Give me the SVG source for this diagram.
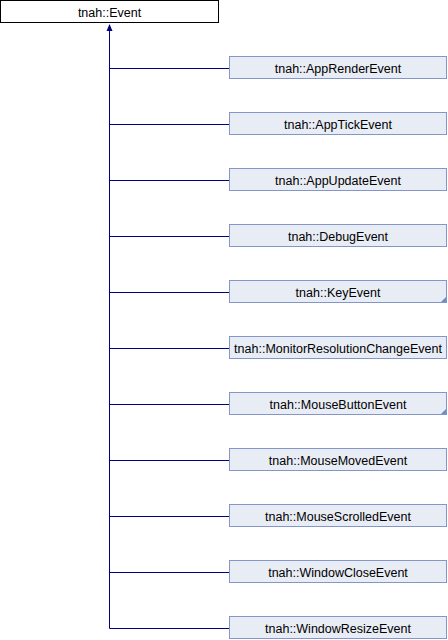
<svg xmlns="http://www.w3.org/2000/svg" width="448" height="640" viewBox="0 0 448 640">
<style>
.n rect{fill:#E8ECF5;stroke:#8496C8;stroke-width:1}
.t{font-family:"Liberation Sans",Arial,sans-serif;font-size:12.5px;fill:#000;text-anchor:middle}
.c{stroke:#000080;stroke-width:1;fill:none}
.tri{fill:#6C8AC8}
</style>
<defs>
<linearGradient id="g" x1="0" y1="0" x2="0" y2="1">
<stop offset="0" stop-color="#EEF1F8"/><stop offset="1" stop-color="#E2E7F2"/>
</linearGradient>
</defs>
<rect width="448" height="640" fill="#fff"/>
<g id="connectors">
<path class="c" d="M109.5 30 V628.5"/>
<path class="c" d="M109.5 68.5 H229 M109.5 124.5 H229 M109.5 180.5 H229 M109.5 236.5 H229 M109.5 292.5 H229 M109.5 348.5 H229 M109.5 404.5 H229 M109.5 460.5 H229 M109.5 516.5 H229 M109.5 572.5 H229 M109.5 628.5 H229"/>
<polygon points="109.5,24 106.5,31 112.5,31" fill="#000080"/>
</g>
<g id="Event"><rect x="0.5" y="0.5" width="218" height="22" fill="#fff" stroke="#000"/><text class="t" x="109.5" y="17">tnah::Event</text></g>
<g class="n" id="AppRenderEvent"><rect x="229.5" y="56.5" width="217" height="22" fill="url(#g)"/><text class="t" x="338" y="73">tnah::AppRenderEvent</text></g>
<g class="n" id="AppTickEvent"><rect x="229.5" y="112.5" width="217" height="22" fill="url(#g)"/><text class="t" x="338" y="129">tnah::AppTickEvent</text></g>
<g class="n" id="AppUpdateEvent"><rect x="229.5" y="168.5" width="217" height="22" fill="url(#g)"/><text class="t" x="338" y="185">tnah::AppUpdateEvent</text></g>
<g class="n" id="DebugEvent"><rect x="229.5" y="224.5" width="217" height="22" fill="url(#g)"/><text class="t" x="338" y="241">tnah::DebugEvent</text></g>
<g class="n" id="KeyEvent"><rect x="229.5" y="280.5" width="217" height="22" fill="url(#g)"/><polygon class="tri" points="446,297 446,302 441,302"/><text class="t" x="338" y="297">tnah::KeyEvent</text></g>
<g class="n" id="MonitorResolutionChangeEvent"><rect x="229.5" y="336.5" width="217" height="22" fill="url(#g)"/><text class="t" x="338" y="353">tnah::MonitorResolutionChangeEvent</text></g>
<g class="n" id="MouseButtonEvent"><rect x="229.5" y="392.5" width="217" height="22" fill="url(#g)"/><polygon class="tri" points="446,409 446,414 441,414"/><text class="t" x="338" y="409">tnah::MouseButtonEvent</text></g>
<g class="n" id="MouseMovedEvent"><rect x="229.5" y="448.5" width="217" height="22" fill="url(#g)"/><text class="t" x="338" y="465">tnah::MouseMovedEvent</text></g>
<g class="n" id="MouseScrolledEvent"><rect x="229.5" y="504.5" width="217" height="22" fill="url(#g)"/><text class="t" x="338" y="521">tnah::MouseScrolledEvent</text></g>
<g class="n" id="WindowCloseEvent"><rect x="229.5" y="560.5" width="217" height="22" fill="url(#g)"/><text class="t" x="338" y="577">tnah::WindowCloseEvent</text></g>
<g class="n" id="WindowResizeEvent"><rect x="229.5" y="616.5" width="217" height="22" fill="url(#g)"/><text class="t" x="338" y="633">tnah::WindowResizeEvent</text></g>
</svg>
